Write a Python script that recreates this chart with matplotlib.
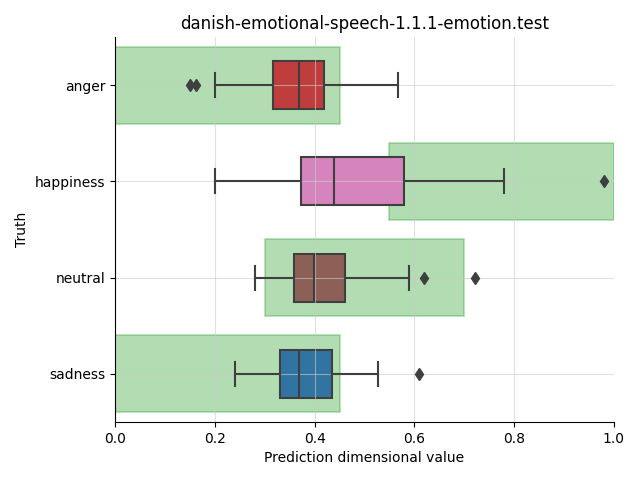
import matplotlib
matplotlib.use('Agg')
import matplotlib.pyplot as plt
from matplotlib.patches import Rectangle

# categories (top to bottom)
emotions = ['anger', 'happiness', 'neutral', 'sadness']
box_colors = ['#c03d3e', '#d684bd', '#8c6057', '#3274a1']

# box statistics
whislo = [0.20, 0.20, 0.28, 0.24]
q1 = [0.316, 0.372, 0.358, 0.330]
med = [0.369, 0.438, 0.399, 0.369]
q3 = [0.419, 0.579, 0.460, 0.435]
whishi = [0.568, 0.780, 0.589, 0.528]
fliers = [[0.150, 0.162], [0.981], [0.619, 0.721], [0.610]]

# expected ranges per emotion (green areas)
range_lo = [0.0, 0.55, 0.30, 0.0]
range_hi = [0.45, 1.0, 0.70, 0.45]

fig, ax = plt.subplots(figsize=(6.4, 4.8), dpi=100)

for i in range(len(emotions)):
    ax.add_patch(Rectangle((range_lo[i], i - 0.4), range_hi[i] - range_lo[i], 0.8,
                           facecolor='#2ca02c', alpha=0.36, edgecolor='#2ca02c',
                           linewidth=1.2, zorder=0))

stats = []
for i, name in enumerate(emotions):
    stats.append({'label': name, 'whislo': whislo[i], 'q1': q1[i], 'med': med[i],
                  'q3': q3[i], 'whishi': whishi[i], 'fliers': fliers[i]})

line_c = '#3f3f3f'
bp = ax.bxp(stats, positions=range(len(emotions)), vert=False, widths=0.5,
            patch_artist=True, showfliers=True,
            boxprops=dict(edgecolor=line_c, linewidth=1.5, zorder=1),
            medianprops=dict(color=line_c, linewidth=1.5, zorder=3),
            whiskerprops=dict(color=line_c, linewidth=1.5, zorder=3),
            capprops=dict(color=line_c, linewidth=1.5, zorder=3),
            flierprops=dict(marker='d', markerfacecolor=line_c, markeredgecolor=line_c,
                            markersize=6, zorder=3))
for patch, c in zip(bp['boxes'], box_colors):
    patch.set_facecolor(c)
for cap in bp['caps']:
    y = cap.get_ydata()
    mid = (y[0] + y[1]) / 2
    cap.set_ydata([mid - 0.125, mid + 0.125])

ax.set_xlim(0, 1)
ax.set_ylim(3.5, -0.5)
ax.set_yticks(range(len(emotions)))
ax.set_yticklabels(emotions)
ax.grid(True, color='#cccccc', alpha=0.6, linewidth=0.8, zorder=1.5)
ax.set_axisbelow(False)
for s in ['left', 'bottom']:
    ax.spines[s].set_zorder(6)
ax.spines['top'].set_visible(False)
ax.spines['right'].set_visible(False)
ax.set_title('danish-emotional-speech-1.1.1-emotion.test')
ax.set_xlabel('Prediction dimensional value')
ax.set_ylabel('Truth')

plt.subplots_adjust(left=0.180, right=0.959, top=0.923, bottom=0.121)
plt.savefig('out.png', dpi=100)
